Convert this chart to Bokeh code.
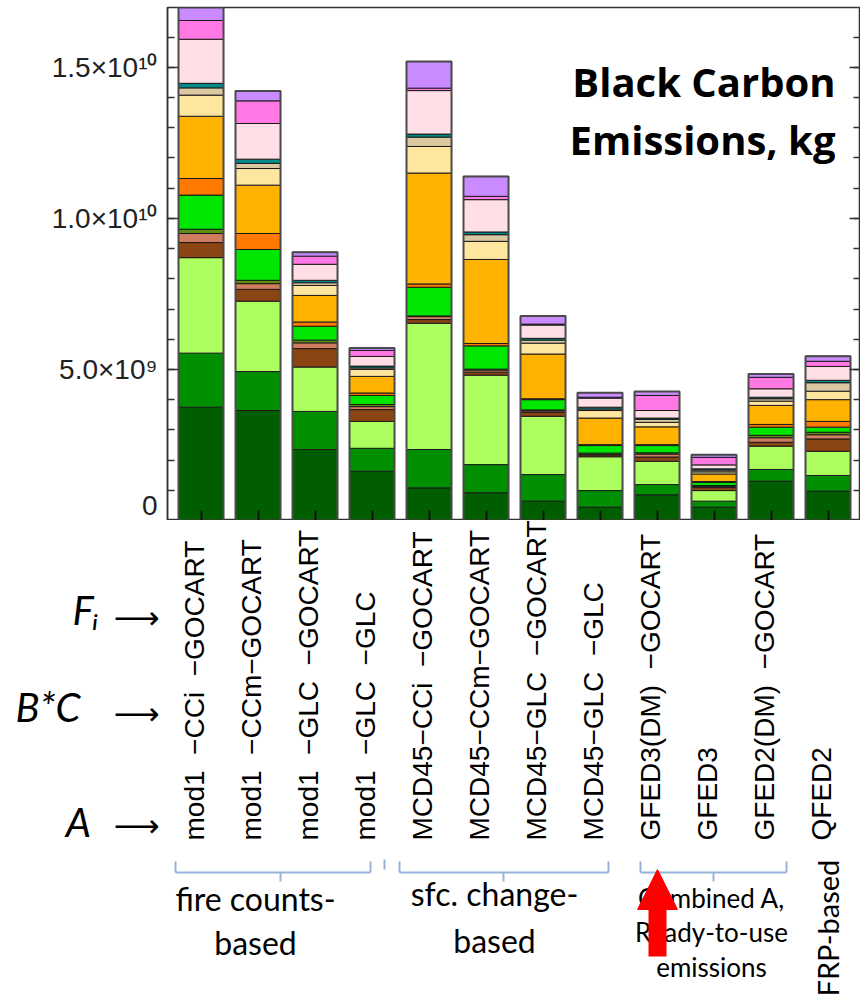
import math
from bokeh.plotting import figure
from bokeh.layouts import column
from bokeh.models import (ColumnDataSource, Label, Arrow, NormalHead,
                          SingleIntervalTicker, FixedTicker, LinearAxis, CustomJSTickFormatter, Range1d)
from bokeh.embed import file_html
from bokeh.resources import INLINE
from bokeh.core.properties import value

# ---------------- data (values in 1e9 kg) ----------------
S = "\u00a0 "      # wide gap between the name parts
M = "\u2212"
runs = ["mod1" + S + M + "CCi" + S + M + "GOCART", "mod1" + S + M + "CCm" + M + "GOCART",
        "mod1" + S + M + "GLC" + S + M + "GOCART", "mod1" + S + M + "GLC" + S + M + "GLC",
        "MCD45" + M + "CCi" + S + M + "GOCART", "MCD45" + M + "CCm" + M + "GOCART",
        "MCD45" + M + "GLC" + S + M + "GOCART", "MCD45" + M + "GLC" + S + M + "GLC",
        "GFED3(DM)" + S + M + "GOCART", "GFED3", "GFED2(DM)" + S + M + "GOCART", "QFED2"]

dark_green   = [3.75, 3.64, 2.35, 1.63, 1.08, 0.92, 0.64, 0.44, 0.85, 0.44, 1.30, 0.97]
green        = [1.79, 1.29, 1.26, 0.76, 1.27, 0.93, 0.88, 0.55, 0.34, 0.20, 0.39, 0.52]
light_green  = [3.16, 2.33, 1.47, 0.89, 4.18, 2.96, 1.93, 1.12, 0.77, 0.35, 0.77, 0.80]
brown        = [0.50, 0.39, 0.61, 0.39, 0.12, 0.10, 0.13, 0.06, 0.14, 0.10, 0.13, 0.41]
salmon       = [0.30, 0.19, 0.19, 0.10, 0.10, 0.07, 0.05, 0.03, 0.10, 0.04, 0.15, 0.14]
olive        = [0.14, 0.11, 0.09, 0.07, 0.02, 0.03, 0.03, 0.03, 0.04, 0.03, 0.08, 0.08]
bright_green = [1.13, 1.02, 0.46, 0.30, 0.95, 0.77, 0.34, 0.25, 0.24, 0.10, 0.27, 0.17]
orange_red   = [0.55, 0.53, 0.14, 0.08, 0.11, 0.08, 0.03, 0.03, 0.03, 0.03, 0.09, 0.19]
orange       = [2.06, 1.60, 0.88, 0.55, 3.67, 2.78, 1.48, 0.88, 0.59, 0.25, 0.63, 0.72]
yellow       = [0.70, 0.55, 0.33, 0.23, 0.88, 0.60, 0.36, 0.25, 0.15, 0.07, 0.14, 0.28]
tan          = [0.24, 0.17, 0.09, 0.05, 0.31, 0.22, 0.10, 0.05, 0.10, 0.06, 0.08, 0.28]
teal         = [0.15, 0.14, 0.08, 0.06, 0.10, 0.09, 0.06, 0.06, 0.04, 0.04, 0.05, 0.08]
pink         = [1.46, 1.18, 0.53, 0.32, 1.44, 1.07, 0.44, 0.30, 0.25, 0.13, 0.28, 0.46]
magenta      = [0.62, 0.75, 0.27, 0.20, 0.08, 0.11, 0.03, 0.03, 0.50, 0.25, 0.38, 0.17]
lavender     = [0.50, 0.33, 0.13, 0.08, 0.88, 0.66, 0.27, 0.15, 0.13, 0.09, 0.11, 0.17]

y_ticks = [0, 5e9, 1e10, 1.5e10]
y_tick_labels = ["0", "5.0\u00d710\u2079", "1.0\u00d710\u00b9\u2070", "1.5\u00d710\u00b9\u2070"]

row_keys = ["F\u1d62\u00a0", "B*C\u00a0\u00a0\u00a0", "A\u00a0\u00a0"]   # parts of each run name (top, middle, bottom)
title_lines = ["Black Carbon", "Emissions, kg"]

# ---------------- styling ----------------
layers = [
    ("dark_green", dark_green, "#005e00"),
    ("green", green, "#008f00"),
    ("light_green", light_green, "#acff5e"),
    ("brown", brown, "#8b4513"),
    ("salmon", salmon, "#cf7d5e"),
    ("olive", olive, "#5f8f10"),
    ("bright_green", bright_green, "#00e600"),
    ("orange_red", orange_red, "#ff7800"),
    ("orange", orange, "#ffb300"),
    ("yellow", yellow, "#ffe69e"),
    ("tan", tan, "#dcc8a0"),
    ("teal", teal, "#008b8b"),
    ("pink", pink, "#ffdfe5"),
    ("magenta", magenta, "#ff78e4"),
    ("lavender", lavender, "#c98bff"),
]

n = len(runs)
xs = list(range(1, n + 1))
data = {"x": xs}
for name, vals, _ in layers:
    data[name] = [v * 1e9 for v in vals]
data["total"] = [sum(v[i] for _, v, _ in layers) * 1e9 for i in range(n)]
src = ColumnDataSource(data)

# layout geometry (page pixels)
FL, FT, FR, FB = 167, 7, 860, 520
W, H = 866, 1002
PX_PER_BAR = 57.0
X0 = 0.412                         # category coordinate at the frame's left edge
X1 = X0 + (FR - FL) / PX_PER_BAR
Y1 = 16.98e9

p = figure(frame_width=FR - FL, frame_height=FB - FT, output_backend="svg", toolbar_location=None,
           x_range=Range1d(X0, X1), y_range=Range1d(0, Y1),
           min_border_left=FL, min_border_right=0, min_border_top=FT, min_border_bottom=0,
           background_fill_color="white", border_fill_color="white")
p.xgrid.visible = False
p.ygrid.visible = False
p.outline_line_color = "#333333"
p.outline_line_width = 1.5

p.vbar_stack([l[0] for l in layers], x="x", width=0.79, color=[l[2] for l in layers],
             line_color="#1a1a1a", line_width=1, source=src)
p.vbar(x="x", top="total", width=0.79, fill_color=None, line_color="#4a4a4a", line_width=2, source=src)

yax = p.yaxis[0]
yax.ticker = SingleIntervalTicker(interval=5e9, num_minor_ticks=5)
yax.major_label_overrides = dict(zip(y_ticks, y_tick_labels))
yax.major_label_text_font = "Liberation Sans"
yax.major_label_text_font_size = "28px"
yax.major_label_text_color = "#222222"
yax.major_label_standoff = 10
ax_r = LinearAxis(ticker=SingleIntervalTicker(interval=5e9, num_minor_ticks=5),
                  formatter=CustomJSTickFormatter(code="return ''"))
p.add_layout(ax_r, "right")
ax_r.major_label_standoff = 0
ax_r.major_label_text_font_size = "0px"
for ax in [yax, ax_r]:
    ax.axis_line_color = "#333333"
    ax.axis_line_width = 1.5
    ax.major_tick_line_color = "#333333"
    ax.major_tick_line_width = 1.5
    ax.minor_tick_line_color = "#333333"
    ax.minor_tick_line_width = 1.5
    ax.major_tick_in = 11
    ax.major_tick_out = 0
    ax.minor_tick_in = 7
    ax.minor_tick_out = 0

xax = p.xaxis[0]
xax.ticker = FixedTicker(ticks=xs, minor_ticks=[])
xax.formatter = CustomJSTickFormatter(code="return ''")
xax.major_label_standoff = 0
xax.major_label_text_font_size = "0px"
xax.axis_line_color = "#333333"
xax.axis_line_width = 1.5
xax.major_tick_line_color = "#111111"
xax.major_tick_line_width = 2
xax.major_tick_in = 10
xax.major_tick_out = 0

for txt, cy in zip(title_lines, [81, 139]):
    p.add_layout(Label(x=835 - FL, y=FB - cy, x_units="screen", y_units="screen", text=txt,
                       text_align="right", text_baseline="middle", text_font="Open Sans",
                       text_font_style="bold", text_font_size="40px", text_color="black"))

# ---------------- lower panel: labels and annotations ----------------
BOT_TOP, BOT_BOT = FB, H - 4
q = figure(frame_width=W - FL, frame_height=BOT_BOT - BOT_TOP, output_backend="svg", toolbar_location=None,
           x_range=Range1d(X0, X0 + (W - FL) / PX_PER_BAR),
           y_range=Range1d(BOT_BOT, BOT_TOP), x_axis_type=None, y_axis_type=None,
           min_border_left=FL, min_border_right=0, min_border_top=0, min_border_bottom=0,
           background_fill_color="white", border_fill_color="white")
q.xgrid.visible = False
q.ygrid.visible = False
q.outline_line_color = None

def dx(X):
    return X0 + (X - FL) / PX_PER_BAR

# row keys at the left: arrows (inner axis) and letters (outer axis)
arrow_ax = LinearAxis(ticker=FixedTicker(ticks=[617, 713, 825], minor_ticks=[]),
                      major_label_overrides={617: "\u27f6", 713: "\u27f6", 825: "\u27f6"})
key_ax = LinearAxis(ticker=FixedTicker(ticks=[609, 706, 821], minor_ticks=[]),
                    major_label_overrides=dict(zip([609, 706, 821], row_keys)))
q.add_layout(arrow_ax, "left")
q.add_layout(key_ax, "left")
for ax, font, style, size, stand in [(arrow_ax, "DejaVu Sans", "normal", "32px", 8),
                                     (key_ax, "Lato", "italic", "40px", 2)]:
    ax.axis_line_color = None
    ax.major_tick_line_color = None
    ax.minor_tick_line_color = None
    ax.major_tick_out = 0
    ax.major_tick_in = 0
    ax.major_label_standoff = stand
    ax.major_label_text_font = font
    ax.major_label_text_font_style = style
    ax.major_label_text_font_size = size
    ax.major_label_text_color = "black"

# category labels, bottom-anchored, reading upward
lab_src = ColumnDataSource(dict(x=xs, y=[840] * n, text=runs))
q.text(x="x", y="y", text="text", source=lab_src, angle=math.pi / 2, x_offset=-7,
       text_align="left", text_baseline="middle", text_font=value("Liberation Sans"),
       text_font_size="28px", text_color="black")

def lab(X, Y, t, size, align="center", angle=0.0):
    q.text(x=[dx(X)], y=[Y], text=[t], angle=angle, text_align=align, text_baseline="middle",
           text_font=value("Lato"), text_font_size=size, text_color="black")

BR = "#95b3d7"
bx0, by0, bx1, by1 = [], [], [], []
def seg(x0, y0, x1, y1):
    bx0.append(dx(x0)); by0.append(y0); bx1.append(dx(x1)); by1.append(y1)
for (a, b, c) in [(175, 370, 280), (399, 608, 503), (640, 786, 713)]:
    seg(a, 861, a, 872)
    seg(a, 872, b, 872)
    seg(b, 872, b, 861)
    seg(c, 872, c, 881)
seg(384, 859, 384, 869)
q.segment(x0=bx0, y0=by0, x1=bx1, y1=by1, line_color=BR, line_width=2)

lab(255, 898, "fire counts-", "32px")
lab(255, 942, "based", "32px")
lab(494, 893, "sfc. change-", "32px")
lab(494, 940, "based", "32px")
lab(711, 897, "Combined A,", "26px")
lab(711, 931, "Ready-to-use", "26px")
lab(711, 966, "emissions", "26px")
lab(827, 996, "FRP-based", "29px", align="left", angle=math.pi / 2)

q.add_layout(Arrow(x_start=dx(657), y_start=956, x_end=dx(657), y_end=869, start=None,
                   end=NormalHead(size=40, fill_color="#ff0000", line_color="#ff0000", line_width=1),
                   line_color="#ff0000", line_width=18))

layout = column(p, q, spacing=0)
open("out.html", "w").write(file_html(layout, INLINE))
